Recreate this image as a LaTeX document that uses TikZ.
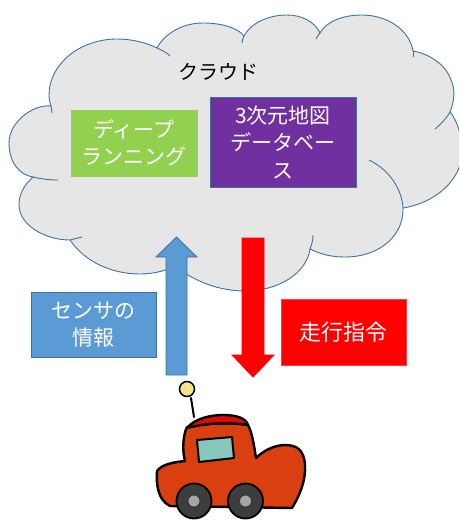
\documentclass[tikz,border=0pt]{standalone}
\usepackage{fontspec}
\newfontfamily\jpfont{Noto Sans CJK JP}
\definecolor{cloudfill}{HTML}{E6E6E6}
\definecolor{cloudline}{HTML}{41719C}
\definecolor{dlgreen}{HTML}{92D050}
\definecolor{mappurple}{HTML}{7030A0}
\definecolor{sensorblue}{HTML}{5B9BD5}
\definecolor{cmdred}{HTML}{FF0000}
\definecolor{carbody}{HTML}{DA3F0F}
\definecolor{carroof}{HTML}{DD0A0A}
\definecolor{carglass}{HTML}{86C9BC}
\definecolor{ballyellow}{HTML}{F7E28C}
\definecolor{tyre}{HTML}{3D3D3D}
\definecolor{hub}{HTML}{A6A6A6}
\begin{document}
\begin{tikzpicture}[x=1pt,y=-1pt,
  labelbox/.style={rectangle, inner sep=0pt, align=center, text=white,
    font=\jpfont\fontsize{21}{27.5}\selectfont},
  cloudedge/.style={draw=cloudline, line width=0.9pt},
  blockarrow/.style={line width=0.8pt, line join=miter},
  carline/.style={draw=black, line width=2.4pt, line join=round, line cap=round}]
\clip (0,0) rectangle (459,522);

% cloud outline
\path[fill=cloudfill, cloudedge]
  (51,106) .. controls (33,104) and (9,122) .. (9,143)
  .. controls (9,163) and (20,175) .. (33,177)
  .. controls (23,186) and (19,195) .. (19,205)
  .. controls (19,225) and (45,240) .. (70,240)
  .. controls (85,262) and (112,274) .. (140,274)
  .. controls (153,274) and (165,271) .. (175,266)
  .. controls (195,282) and (220,291) .. (245,291)
  .. controls (280,291) and (307,272) .. (310,249)
  .. controls (322,255) and (333,257) .. (345,257)
  .. controls (380,257) and (404,235) .. (403,208)
  .. controls (435,203) and (462,180) .. (462,152)
  .. controls (462,135) and (457,120) .. (450,112)
  .. controls (455,100) and (455,88) .. (451,80)
  .. controls (446,65) and (430,54) .. (413,51)
  .. controls (409,28) and (385,15) .. (362,15)
  .. controls (342,15) and (326,22) .. (320,33)
  .. controls (315,22) and (302,15) .. (287,15)
  .. controls (267,15) and (250,24) .. (244,36)
  .. controls (238,28) and (222,23) .. (203,23)
  .. controls (183,23) and (165,33) .. (157,48)
  .. controls (145,42) and (130,39) .. (117,39)
  .. controls (80,39) and (49,64) .. (49,95)
  .. controls (49,99) and (50,103) .. (51,106) -- cycle;

% inner ends of the puffs
\draw[cloudedge] (157,48) .. controls (161,50) and (166,52) .. (170,56);
\draw[cloudedge] (244,36) .. controls (243,38) and (242,41) .. (242,43);
\draw[cloudedge] (320,33) .. controls (318,35) and (317,37) .. (316,39);
\draw[cloudedge] (413,51) -- (413,57);
\draw[cloudedge] (450,112) .. controls (446,119) and (441,124) .. (435,129);
\draw[cloudedge] (403,208) .. controls (402,190) and (390,170) .. (369,160);
\draw[cloudedge] (310,249) .. controls (312,244) and (313,240) .. (313,235);
\draw[cloudedge] (70,240) .. controls (74,239) and (78,238) .. (82,237);
\draw[cloudedge] (33,177) .. controls (41,179) and (50,180) .. (58,180);
\draw[cloudedge] (51,106) .. controls (51,108) and (52,110) .. (52,113);

% labels inside the cloud
\node[font=\jpfont\fontsize{20}{24}\selectfont, text=black] (cloud) at (218,72) {クラウド};
\node[labelbox, fill=dlgreen, draw=dlgreen, line width=0.6pt,
      minimum width=126pt, minimum height=66pt] (dl) at (134,143) {ディープ\\ランニング};
\node[labelbox, fill=mappurple, draw=cloudline, line width=0.8pt,
      minimum width=146pt, minimum height=90pt] (map) at (283,142) {3次元地図\\データベー\\ス};

% sensor data going up
\coordinate (upbase) at (176.5,375);
\coordinate (uptip) at (176.5,237);
\path[blockarrow, fill=sensorblue, draw=cloudline]
  ([xshift=-10.5pt]upbase) -- ++(0,-118) -- ++(-10,0) -- (uptip)
  -- ([xshift=20.5pt,yshift=-20pt]uptip) -- ++(-10,0) -- ([xshift=10.5pt]upbase) -- cycle;
\node[labelbox, fill=sensorblue, draw=cloudline, line width=0.8pt,
      minimum width=125pt, minimum height=65pt] (sensor) at (93.5,324.5) {センサの\\情報};

% driving command going down
\coordinate (dntop) at (253,238);
\coordinate (dntip) at (253,377);
\path[blockarrow, fill=cmdred, draw=cmdred]
  ([xshift=-11pt]dntop) -- ++(0,117) -- ++(-10,0) -- (dntip)
  -- ([xshift=21pt,yshift=22pt]dntip) -- ++(-10,0) -- ([xshift=11pt]dntop) -- cycle;
\node[labelbox, fill=cmdred, draw=red!75!white, line width=0.8pt,
      font=\jpfont\fontsize{22}{27}\selectfont,
      minimum width=125pt, minimum height=66pt] (cmd) at (343.5,332) {走行指令};

% the car
\draw[black, line width=2pt, line cap=round] (191,398) -- (194,417);
\draw[fill=ballyellow, draw=black, line width=1.5pt] (187,389) circle (7.5);
\path[fill=carbody, carline]
  (187,427) .. controls (183,435) and (182,450) .. (185,461)
  .. controls (175,462) and (162,464) .. (157,471)
  .. controls (156,485) and (158,500) .. (170,506)
  -- (292,508)
  .. controls (300,495) and (306,480) .. (305,465)
  .. controls (304,450) and (297,445) .. (285,445)
  .. controls (273,445) and (262,452) .. (256,458)
  .. controls (254,445) and (252,432) .. (248,425)
  .. controls (230,422) and (205,423) .. (187,427) -- cycle;
\path[fill=carroof, carline]
  (187,428) .. controls (195,418) and (212,415) .. (223,415)
  .. controls (236,415) and (246,418) .. (248,425)
  .. controls (230,422) and (205,423) .. (187,428) -- cycle;
\path[fill=carglass, draw=black, line width=2pt, line join=round]
  (197,440) -- (232,437) -- (234,458) -- (199,462) -- cycle;
\foreach \wx in {194,245.5}{
  \draw[fill=tyre, draw=black, line width=1.8pt] (\wx,501) circle (17.5);
  \draw[fill=hub, draw=black!80, line width=0.8pt] (\wx,501) circle (6);
}
\end{tikzpicture}
\end{document}
